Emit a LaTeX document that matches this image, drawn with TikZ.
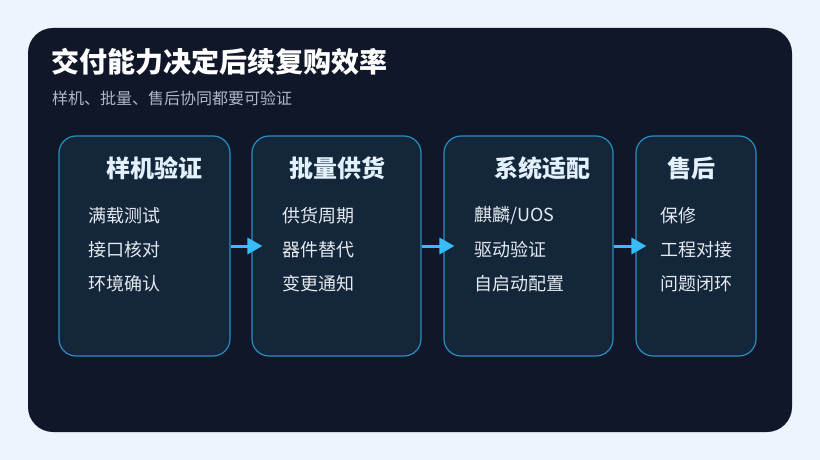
\documentclass[tikz,border=0pt]{standalone}
\usepackage{fontspec}
\setmainfont{Noto Sans CJK SC}
\usetikzlibrary{arrows.meta}
\definecolor{bgc}{HTML}{EEF4FD}
\definecolor{panelc}{HTML}{0F1729}
\definecolor{boxfill}{HTML}{13263A}
\definecolor{boxline}{HTML}{2A8CC2}
\definecolor{arrowc}{HTML}{38BDF8}
\definecolor{subc}{HTML}{AEB8C6}
\definecolor{itemc}{HTML}{E5EAF0}
\definecolor{headc}{HTML}{E3F1FC}
\begin{document}
\begin{tikzpicture}[x=1pt,y=-1pt,
  stagebox/.style={draw=boxline,line width=1.2pt,fill=boxfill,rounded corners=17pt,inner sep=0pt},
  headtxt/.style={text=headc,font=\fontsize{24}{28}\selectfont\bfseries,inner sep=0pt},
  itemtxt/.style={text=itemc,font=\fontsize{18}{21}\selectfont,inner sep=0pt,anchor=west},
  flow/.style={draw=arrowc,line width=3pt,-{Triangle[length=15pt,width=16pt]}}]
\useasboundingbox (0,0) rectangle (820,460);
\fill[bgc] (0,0) rectangle (820,460);
\fill[panelc,rounded corners=25pt] (28,28) rectangle (792,432);
\node[anchor=base west,inner sep=0pt,text=white,font=\fontsize{28}{32}\selectfont\bfseries] (title) at (51,73) {交付能力决定后续复购效率};
\node[anchor=base west,inner sep=0pt,text=subc,font=\fontsize{16}{19}\selectfont] (sub) at (52,104) {样机、批量、售后协同都要可验证};
% boxes
\node[stagebox,minimum width=171pt,minimum height=220pt] (b1) at (144.5,246) {};
\node[stagebox,minimum width=169pt,minimum height=220pt] (b2) at (336.5,246) {};
\node[stagebox,minimum width=169pt,minimum height=220pt] (b3) at (528.5,246) {};
\node[stagebox,minimum width=120pt,minimum height=220pt] (b4) at (696,246) {};
% headings
\node[headtxt] (h1) at (154.5,168) {样机验证};
\node[headtxt] (h2) at (337.5,168) {批量供货};
\node[headtxt] (h3) at (542,168) {系统适配};
\node[headtxt] (h4) at (691.5,168) {售后};
% items
\node[itemtxt] (i11) at (88,216) {满载测试};
\node[itemtxt] (i12) at (88,250) {接口核对};
\node[itemtxt] (i13) at (88,284) {环境确认};
\node[itemtxt] (i21) at (282,216) {供货周期};
\node[itemtxt] (i22) at (282,250) {器件替代};
\node[itemtxt] (i23) at (282,284) {变更通知};
\node[itemtxt] (i31) at (474,216) {麒麟/UOS};
\node[itemtxt] (i32) at (474,250) {驱动验证};
\node[itemtxt] (i33) at (474,284) {自启动配置};
\node[itemtxt] (i41) at (660,216) {保修};
\node[itemtxt] (i42) at (660,250) {工程对接};
\node[itemtxt] (i43) at (660,284) {问题闭环};
% arrows
\draw[flow] (b1.east) -- ([xshift=11pt]b2.west);
\draw[flow] (b2.east) -- ([xshift=11pt]b3.west);
\draw[flow] (b3.east) -- ([xshift=11pt]b4.west);
\end{tikzpicture}
\end{document}
